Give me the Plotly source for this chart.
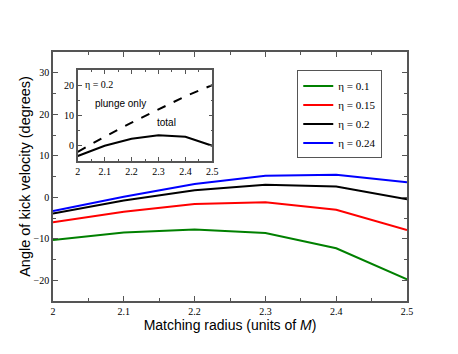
import plotly.graph_objects as go

# matching radius (units of M)
radius = [2.0, 2.1, 2.2, 2.3, 2.4, 2.5]

# kick angle (degrees) for each eta
angle_eta_010 = [-10.3, -8.5, -7.8, -8.6, -12.3, -19.8]
angle_eta_015 = [-6.0, -3.5, -1.6, -1.2, -3.0, -7.9]
angle_eta_020 = [-3.9, -0.8, 1.7, 3.0, 2.6, -0.5]
angle_eta_024 = [-3.3, 0.1, 3.2, 5.2, 5.4, 3.6]

# inset, eta = 0.2
inset_total = [-3.6, -0.2, 2.1, 3.3, 2.8, -0.2]
inset_plunge = [-2.2, 2.8, 7.5, 12.0, 16.3, 20.0]

series = [
    ("η = 0.1", angle_eta_010, "#008000"),
    ("η = 0.15", angle_eta_015, "#ff0000"),
    ("η = 0.2", angle_eta_020, "#000000"),
    ("η = 0.24", angle_eta_024, "#0000ff"),
]

serif = "Liberation Serif"
sans = "Liberation Sans"
axcol = "#555555"

fig = go.Figure()
for name, vals, col in series:
    fig.add_trace(go.Scatter(x=radius, y=vals, mode="lines", name=name,
                             line=dict(color=col, width=2)))

fig.add_trace(go.Scatter(x=radius, y=inset_total, mode="lines", xaxis="x2", yaxis="y2",
                         line=dict(color="black", width=2), showlegend=False))
fig.add_trace(go.Scatter(x=radius, y=inset_plunge, mode="lines", xaxis="x2", yaxis="y2",
                         line=dict(color="black", width=2, dash="dash"), showlegend=False))

common = dict(showline=True, linecolor=axcol, linewidth=1.5, mirror="ticks",
              ticks="inside", tickcolor=axcol, showgrid=False, zeroline=False,
              automargin=False,
              tickfont=dict(family=serif, size=10, color="black"))

fig.update_layout(
    width=458, height=354,
    margin=dict(l=53, r=51, t=52, b=53),
    paper_bgcolor="white", plot_bgcolor="white",
    xaxis=dict(range=[2, 2.5], dtick=0.1, tickformat=".1~f", ticklen=5,
               minor=dict(dtick=0.05, ticklen=3, ticks="inside", tickcolor=axcol),
               title=dict(text="Matching radius (units of <i>M</i>)",
                          font=dict(family=sans, size=14, color="black"), standoff=2),
               **common),
    yaxis=dict(range=[-25, 35], dtick=10, ticklen=5,
               minor=dict(dtick=5, ticklen=3, ticks="inside", tickcolor=axcol),
               title=dict(text="Angle of kick velocity (degrees)",
                          font=dict(family=sans, size=14.5, color="black"), standoff=0),
               **common),
    xaxis2=dict(domain=[0.070, 0.450], anchor="y2", range=[2, 2.5], dtick=0.1,
                tickformat=".1~f", ticklen=4,
                minor=dict(dtick=0.05, ticklen=2, ticks="inside", tickcolor=axcol),
                **common),
    yaxis2=dict(domain=[0.562, 0.926], anchor="x2", range=[-5.3, 24.9], dtick=10,
                ticklen=4,
                minor=dict(dtick=5, ticklen=2, ticks="inside", tickcolor=axcol),
                **common),
    legend=dict(x=0.69, y=0.926, xanchor="left", yanchor="top",
                bgcolor="white", bordercolor=axcol, borderwidth=1,
                font=dict(family=serif, size=11, color="black"),
                itemwidth=30, tracegroupgap=0),
    showlegend=True,
)

# white background behind inset
fig.add_shape(type="rect", xref="x2 domain", yref="y2 domain", x0=0, x1=1, y0=0, y1=1,
              fillcolor="white", line=dict(width=0), layer="below")

fig.add_annotation(x=0.04, y=0.93, xref="x2 domain", yref="y2 domain", text="η = 0.2",
                   showarrow=False, xanchor="left", yanchor="top",
                   font=dict(family=serif, size=10, color="black"))
fig.add_annotation(x=2.16, y=14.0, xref="x2", yref="y2", text="plunge only",
                   showarrow=False, font=dict(family=sans, size=10, color="black"))
fig.add_annotation(x=2.33, y=7.5, xref="x2", yref="y2", text="total",
                   showarrow=False, font=dict(family=sans, size=10, color="black"))

fig.write_html("out.html", config={"displayModeBar": False},
               post_script="document.body.style.margin='0';")
